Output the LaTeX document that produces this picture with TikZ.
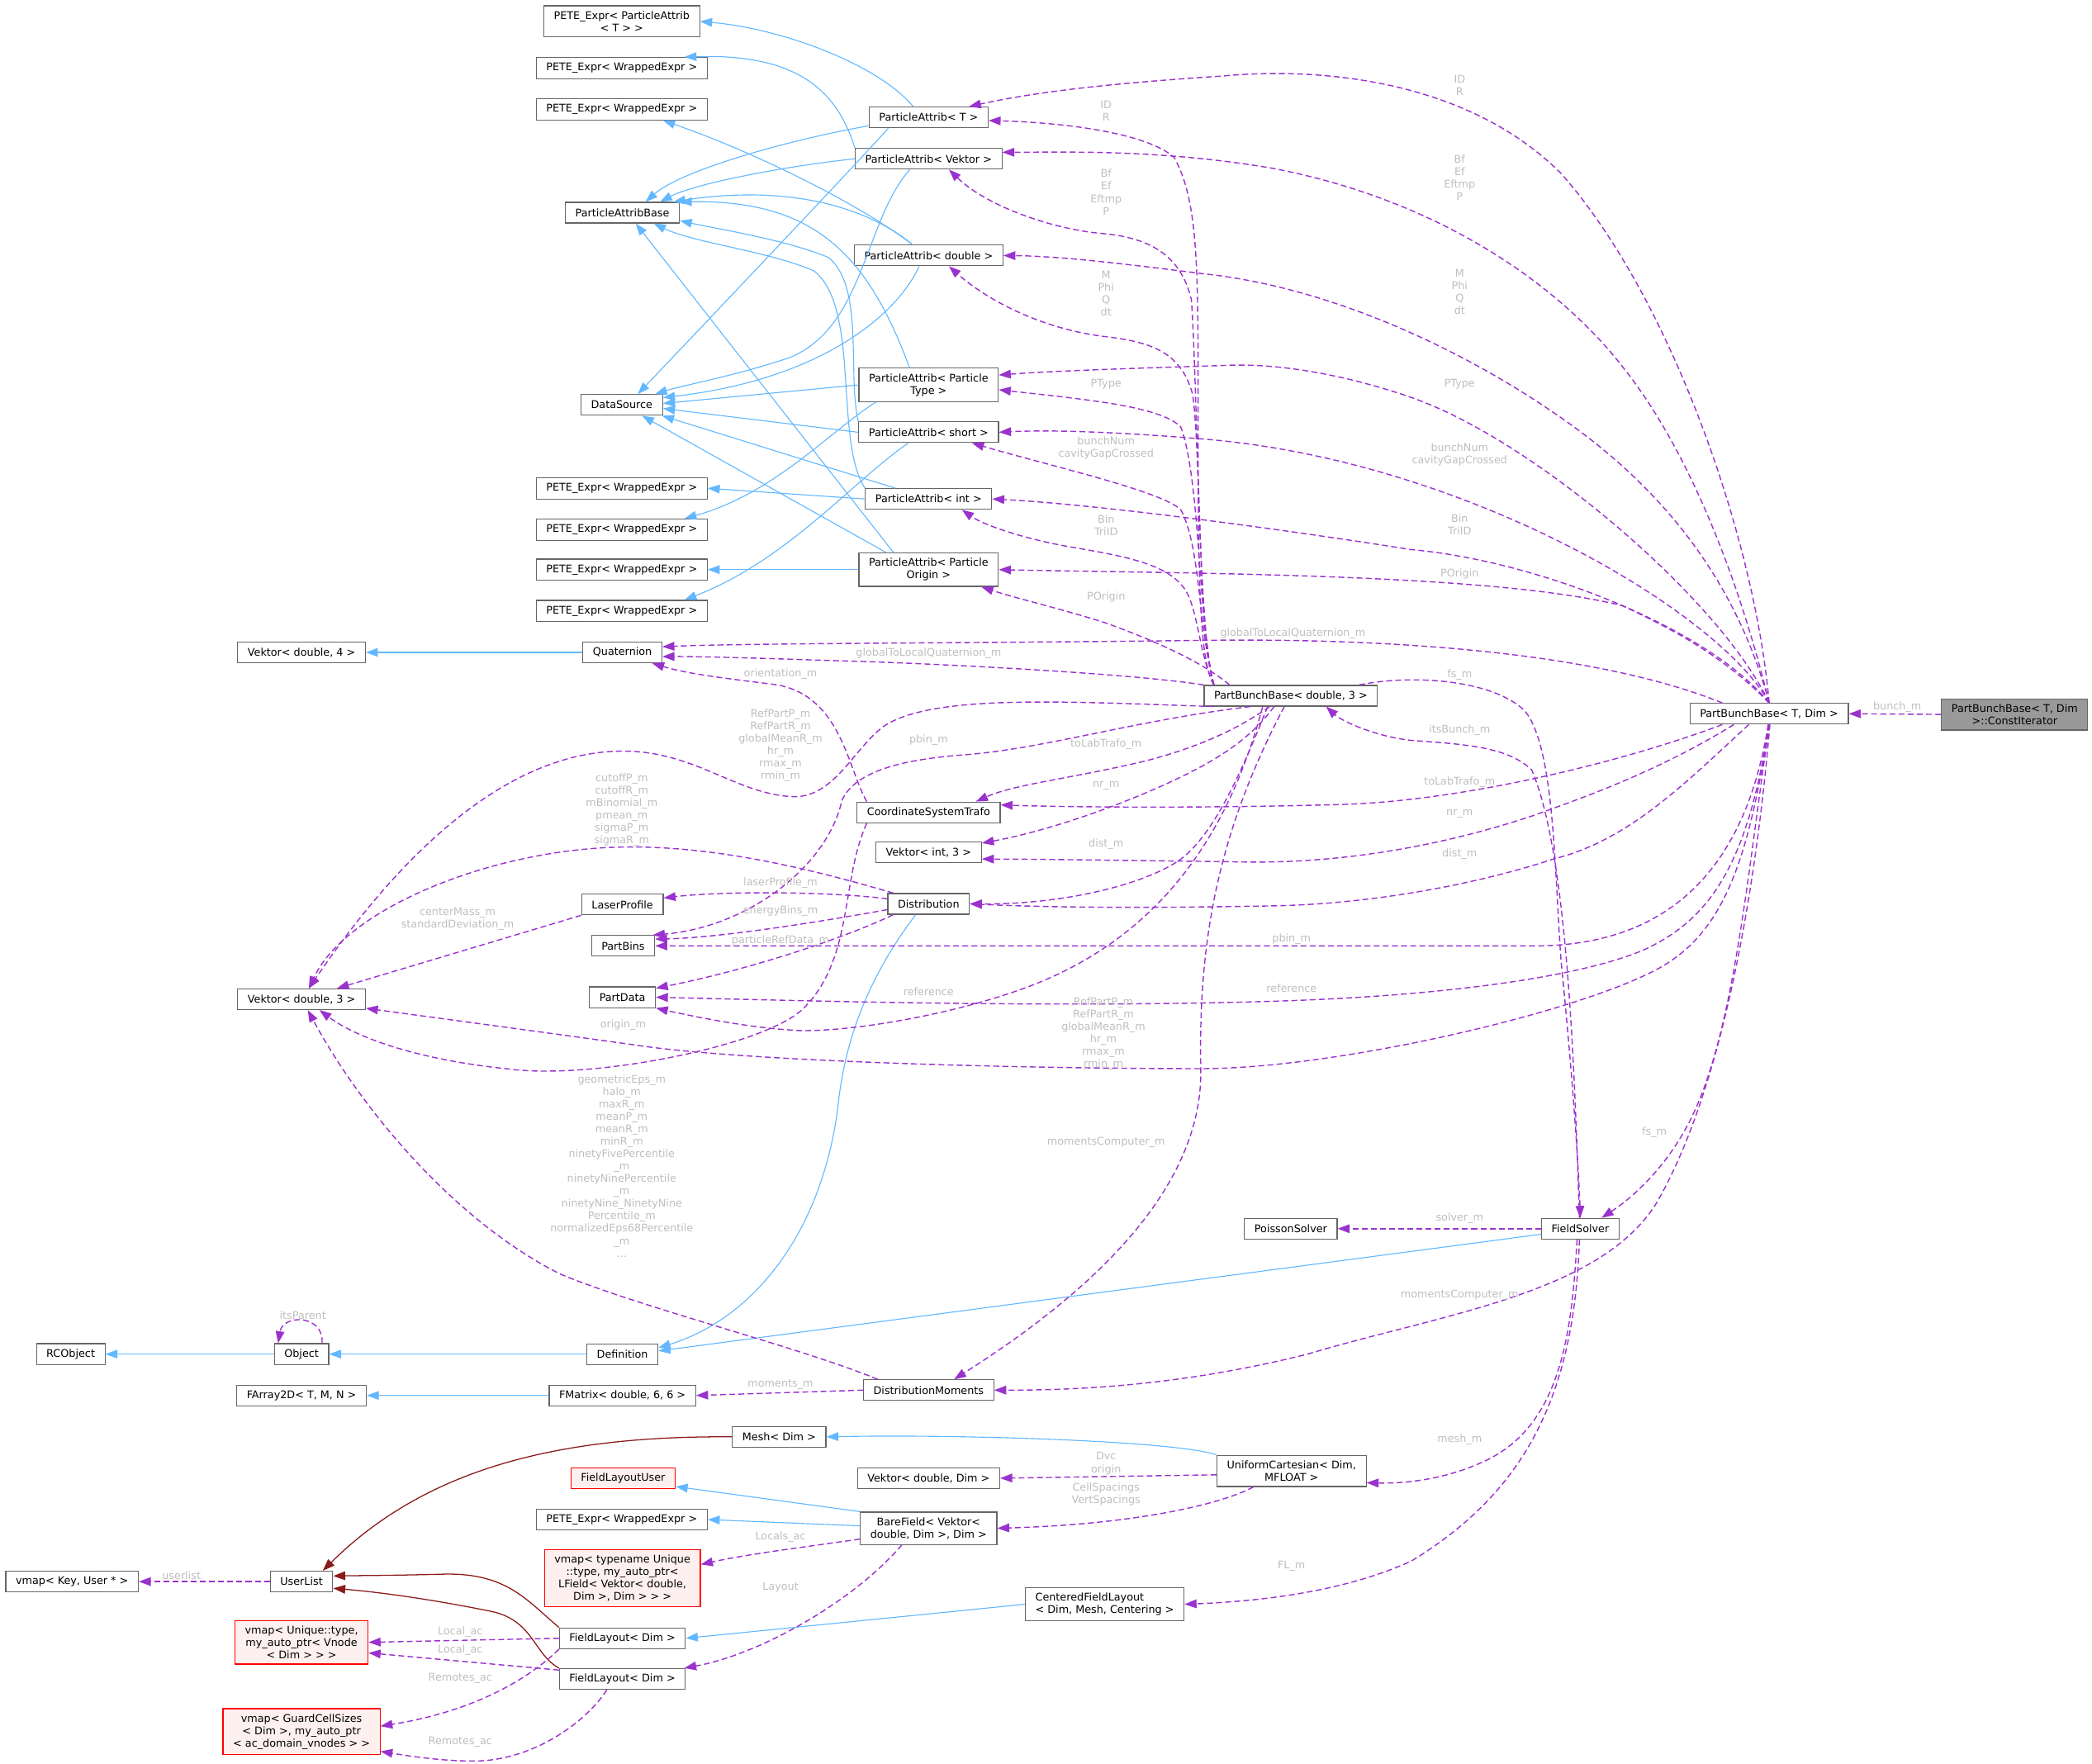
\documentclass[tikz,border=0pt]{standalone}
\usepackage{fontspec}
\setmainfont{DejaVu Sans}
\usepackage{tikz}
\usetikzlibrary{arrows.meta}
\definecolor{NodeBorder}{HTML}{666666}
\definecolor{CurFill}{HTML}{999999}
\definecolor{MissBorder}{HTML}{FF0000}
\definecolor{MissFill}{HTML}{FFF0F0}
\definecolor{InhEdge}{HTML}{63B8FF}
\definecolor{UseEdge}{HTML}{9A32CD}
\definecolor{PrivEdge}{HTML}{8B1A1A}
\definecolor{EdgeLabel}{HTML}{BEBEBE}
\newcommand{\dxfont}{\fontsize{4.5}{5.3}\selectfont}

\begin{document}
\begin{tikzpicture}[x=0.02cm,y=-0.02cm,
  cls/.style={draw=NodeBorder,fill=white,line width=0.4pt,font=\dxfont,
    align=center,inner xsep=0.15cm,inner ysep=0.08cm,minimum height=0.31cm},
  cur/.style={cls,fill=CurFill},
  miss/.style={cls,draw=MissBorder,fill=MissFill},
  inh/.style={->,>={Triangle[length=1.8mm,width=1.3mm]},draw=InhEdge,line width=0.4pt},
  usage/.style={->,>={Triangle[length=1.8mm,width=1.3mm]},draw=UseEdge,
    line width=0.5pt,dash pattern=on 2.5pt off 1.4pt},
  priv/.style={->,>={Triangle[length=1.8mm,width=1.3mm]},draw=PrivEdge,line width=0.45pt},
  elbl/.style={font=\dxfont,text=EdgeLabel,align=center,inner sep=0pt}
]
\useasboundingbox (0,0) rectangle (1568,1322);
% classes
\node[cls] (peteT) at (466,16) {PETE\_Expr< ParticleAttrib\\< T > >};
\node[cls] (peteA) at (466,51) {PETE\_Expr< WrappedExpr >};
\node[cls] (peteB) at (466,82) {PETE\_Expr< WrappedExpr >};
\node[cls] (pab) at (466.5,159.4) {ParticleAttribBase};
\node[cls] (paT) at (696,88) {ParticleAttrib< T >};
\node[cls] (paVek) at (696,119) {ParticleAttrib< Vektor >};
\node[cls] (paDbl) at (696,191.5) {ParticleAttrib< double >};
\node[cls] (dsrc) at (466,303.5) {DataSource};
\node[cls] (paPT) at (696,288.5) {ParticleAttrib< Particle\\Type >};
\node[cls] (paShort) at (696,324) {ParticleAttrib< short >};
\node[cls] (peteC) at (466,366) {PETE\_Expr< WrappedExpr >};
\node[cls] (paInt) at (696,374) {ParticleAttrib< int >};
\node[cls] (peteD) at (466,397) {PETE\_Expr< WrappedExpr >};
\node[cls] (paPO) at (696,427) {ParticleAttrib< Particle\\Origin >};
\node[cls] (peteE) at (466,427) {PETE\_Expr< WrappedExpr >};
\node[cls] (peteF) at (466,458) {PETE\_Expr< WrappedExpr >};
\node[cls] (vek4) at (226,489) {Vektor< double, 4 >};
\node[cls] (quat) at (466.5,489) {Quaternion};
\node[cls] (pbbD) at (967.5,521.5) {PartBunchBase< double, 3 >};
\node[cls] (pbbT) at (1326,535) {PartBunchBase< T, Dim >};
\node[cur] (cit) at (1510,535.5) {PartBunchBase< T, Dim\\>::ConstIterator};
\node[cls] (cst) at (696,609) {CoordinateSystemTrafo};
\node[cls] (vekI3) at (696,639) {Vektor< int, 3 >};
\node[cls] (dist) at (696,677.5) {Distribution};
\node[cls] (laser) at (466.5,678) {LaserProfile};
\node[cls] (pbins) at (467,709) {PartBins};
\node[cls] (pdata) at (466.5,747.5) {PartData};
\node[cls] (vekD3) at (226,749) {Vektor< double, 3 >};
\node[cls] (poisson) at (967.5,921) {PoissonSolver};
\node[cls] (fsolver) at (1184.5,921) {FieldSolver};
\node[cls] (rcobj) at (53,1015) {RCObject};
\node[cls] (object) at (226,1015) {Object};
\node[cls] (defn) at (466.5,1015) {Definition};
\node[cls] (farray) at (226,1046) {FArray2D< T, M, N >};
\node[cls] (fmatrix) at (466.5,1046) {FMatrix< double, 6, 6 >};
\node[cls] (dmom) at (696,1042) {DistributionMoments};
\node[cls] (mesh) at (584,1077) {Mesh< Dim >};
\node[cls] (ucart) at (968,1102.5) {UniformCartesian< Dim,\\MFLOAT >};
\node[miss] (flu) at (467,1108) {FieldLayoutUser};
\node[cls] (vekDD) at (696,1108) {Vektor< double, Dim >};
\node[cls] (peteG) at (466,1139) {PETE\_Expr< WrappedExpr >};
\node[cls] (bfield) at (696,1145.5) {BareField< Vektor<\\double, Dim >, Dim >};
\node[miss] (vmapL) at (466.5,1183) {vmap< typename Unique\\::type, my\_auto\_ptr<\\LField< Vektor< double,\\Dim >, Dim > > >};
\node[cls] (ulist) at (226,1185.5) {UserList};
\node[cls] (vmapK) at (54,1185.5) {vmap< Key, User * >};
\node[cls,align=left] (cfl) at (828,1202.5) {CenteredFieldLayout\\< Dim, Mesh, Centering >};
\node[cls] (flA) at (466.5,1228) {FieldLayout< Dim >};
\node[miss] (vmapU) at (226,1231) {vmap< Unique::type,\\my\_auto\_ptr< Vnode\\< Dim > > >};
\node[cls] (flB) at (466.5,1258.5) {FieldLayout< Dim >};
\node[miss] (vmapG) at (226,1298) {vmap< GuardCellSizes\\< Dim >, my\_auto\_ptr\\< ac\_domain\_vnodes > >};

% public inheritance
\draw[inh] (paT.145) .. controls (660,50) and (590,22) .. (peteT.east);
\draw[inh] (paT.188) .. controls (590,105) and (510,128) .. (pab.25);
\draw[inh] (paT.195) .. controls (652,112) and (545,225) .. (dsrc.34);
\draw[inh] (paVek.north west) .. controls (628,70) and (600,40) .. (peteA.10);
\draw[inh] (paVek.west) .. controls (585,125) and (520,138) .. (pab.16);
\draw[inh] (paVek.210) .. controls (648,165) and (648,245) .. (592,268) .. controls (550,282) and (515,288) .. (dsrc.18);
\draw[inh] (paDbl.146) .. controls (650,155) and (590,138) .. (pab.12);
\draw[inh] (paDbl.146) .. controls (640,150) and (560,112) .. (peteB.345);
\draw[inh] (paDbl.229) .. controls (670,240) and (610,285) .. (dsrc.10);
\draw[inh] (paPT.138) .. controls (650,190) and (610,150) .. (pab.north east);
\draw[inh] (paPT.west) -- (dsrc.2);
\draw[inh] (paPT.198) .. controls (620,325) and (580,370) .. (peteD.10);
\draw[inh] (paShort.north west) .. controls (635,280) and (648,215) .. (621,193) .. controls (590,180) and (540,172) .. (pab.352);
\draw[inh] (paShort.west) -- (dsrc.355);
\draw[inh] (paShort.208) .. controls (640,360) and (590,420) .. (peteF.10);
\draw[inh] (paInt.north west) .. controls (625,330) and (645,230) .. (610,203) .. controls (575,188) and (520,182) .. (pab.341);
\draw[inh] (paInt.162) -- (dsrc.345);
\draw[inh] (paInt.west) -- (peteC.east);
\draw[inh] (paPO.154) -- (pab.321);
\draw[inh] (paPO.158) -- (dsrc.332);
\draw[inh] (paPO.west) -- (peteE.east);
\draw[inh] (quat.west) -- (vek4.east);
\draw[inh] (dist.220) .. controls (645,740) and (632,790) .. (628,830) .. controls (615,930) and (560,990) .. (defn.10);
\draw[inh] (fsolver.188) -- (defn.5);
\draw[inh] (defn.west) -- (object.east);
\draw[inh] (object.west) -- (rcobj.east);
\draw[inh] (fmatrix.west) -- (farray.east);
\draw[inh] (ucart.north west) .. controls (880,1080) and (720,1075) .. (mesh.east);
\draw[inh] (bfield.north west) -- (flu.351);
\draw[inh] (bfield.178) -- (peteG.east);
\draw[inh] (cfl.west) -- (flA.east);

% private inheritance
\draw[priv] (mesh.west) .. controls (420,1076) and (320,1100) .. (ulist.27);
\draw[priv] (flA.north west) .. controls (395,1200) and (380,1178) .. (330,1180) .. controls (290,1181) and (265,1181) .. (ulist.10);
\draw[priv] (flB.north west) .. controls (400,1240) and (400,1215) .. (369,1208) .. controls (320,1198) and (280,1193) .. (ulist.348);

% usage from PartBunchBase< T, Dim >
\draw[usage] (cit.west) -- (pbbT.east);
\draw[usage] (pbbT.north) .. controls (1315,400) and (1250,220) .. (1170,130) .. controls (1100,60) and (990,50) .. (916,57) .. controls (840,62) and (780,68) .. (paT.15);
\draw[usage] (pbbT.north) .. controls (1300,420) and (1260,330) .. (1217,276) .. controls (1170,215) and (1080,150) .. (953,126) .. controls (870,112) and (800,114) .. (paVek.5);
\draw[usage] (pbbT.north) .. controls (1300,430) and (1240,360) .. (1164,309) .. controls (1100,265) and (1000,215) .. (900,205) .. controls (830,196) and (790,192) .. (paDbl.east);
\draw[usage] (pbbT.north) .. controls (1290,450) and (1150,330) .. (1058,298) .. controls (1000,278) and (950,272) .. (916,274) .. controls (850,276) and (790,278) .. (paPT.8);
\draw[usage] (pbbT.north) .. controls (1290,460) and (1100,345) .. (901,329) .. controls (840,324) and (790,322) .. (paShort.east);
\draw[usage] (pbbT.north) .. controls (1280,470) and (1150,420) .. (1058,412) .. controls (950,395) and (820,378) .. (paInt.east);
\draw[usage] (pbbT.north) .. controls (1290,490) and (1250,470) .. (1216,454) .. controls (1120,430) and (900,430) .. (paPO.east);
\draw[usage] (pbbT.167) .. controls (1200,490) and (1050,478) .. (900,480) .. controls (750,482) and (560,482) .. (quat.8);
\draw[usage] (pbbT.193) .. controls (1220,570) and (1100,600) .. (1006,603) .. controls (900,606) and (800,605) .. (cst.6);
\draw[usage] (pbbT.197) .. controls (1240,580) and (1180,600) .. (1153,610) .. controls (1080,635) and (1000,648) .. (927,646) .. controls (850,645) and (780,644) .. (vekI3.353);
\draw[usage] (pbbT.208) .. controls (1260,590) and (1220,630) .. (1164,644) .. controls (1100,665) and (1020,678) .. (953,679) .. controls (850,681) and (780,680) .. (dist.east);
\draw[usage] (pbbT.265) .. controls (1310,640) and (1260,709) .. (1150,709) -- (pbins.east);
\draw[usage] (pbbT.268) .. controls (1310,650) and (1280,690) .. (1232,712) .. controls (1190,730) and (1100,745) .. (969,750) .. controls (800,756) and (600,750) .. (pdata.east);
\draw[usage] (pbbT.south) .. controls (1310,650) and (1290,700) .. (1243,726) .. controls (1180,760) and (1000,801) .. (901,801) .. controls (750,801) and (550,795) .. (474,783) .. controls (380,770) and (320,762) .. (vekD3.352);
\draw[usage] (pbbT.272) .. controls (1310,650) and (1300,780) .. (1264,845) .. controls (1245,880) and (1220,900) .. (fsolver.27);
\draw[usage] (pbbT.274) .. controls (1320,620) and (1300,800) .. (1242,901) .. controls (1200,970) and (1080,985) .. (980,1015) .. controls (880,1040) and (800,1042) .. (dmom.east);

% usage from PartBunchBase< double, 3 >
\draw[usage] (pbbD.172) .. controls (898,495) and (898,420) .. (898,300) .. controls (898,200) and (898,150) .. (880,118) .. controls (860,100) and (800,92) .. (paT.357);
\draw[usage] (pbbD.172) .. controls (898,480) and (898,300) .. (893,225) .. controls (885,190) and (860,178) .. (826,175) .. controls (790,172) and (740,155) .. (paVek.332);
\draw[usage] (pbbD.172) .. controls (898,470) and (900,340) .. (894,296) .. controls (885,262) and (860,256) .. (826,252) .. controls (780,246) and (740,225) .. (paDbl.332);
\draw[usage] (pbbD.172) .. controls (898,470) and (900,360) .. (885,320) .. controls (870,305) and (820,300) .. (paPT.356);
\draw[usage] (pbbD.172) .. controls (898,470) and (900,410) .. (885,382) .. controls (870,368) and (790,350) .. (paShort.346);
\draw[usage] (pbbD.172) .. controls (898,490) and (898,450) .. (885,438) .. controls (870,420) and (830,415) .. (797,409) .. controls (760,402) and (735,392) .. (paInt.342);
\draw[usage] (pbbD.170) .. controls (900,495) and (860,478) .. (826,466) .. controls (790,455) and (760,448) .. (paPO.342);
\draw[usage] (pbbD.north west) .. controls (850,505) and (700,497) .. (619,495) .. controls (560,493) and (520,492) .. (quat.354);
\draw[usage] (pbbD.207) .. controls (930,545) and (900,560) .. (856,571) .. controls (800,584) and (760,588) .. (cst.13);
\draw[usage] (pbbD.213) .. controls (940,550) and (920,565) .. (890,580) .. controls (850,600) and (790,622) .. (vekI3.10);
\draw[usage] (pbbD.205) .. controls (930,580) and (910,625) .. (885,644) .. controls (860,662) and (800,678) .. (dist.east);
\draw[usage] (pbbD.195) .. controls (850,540) and (780,562) .. (720,566) .. controls (670,570) and (640,580) .. (631,600) .. controls (620,650) and (560,695) .. (pbins.20);
\draw[usage] (pbbD.201) .. controls (925,610) and (880,700) .. (767,741) .. controls (700,765) and (620,775) .. (592,772) .. controls (560,770) and (520,762) .. (pdata.south east);
\draw[usage] (pbbD.188) .. controls (800,526) and (700,520) .. (663,544) .. controls (640,560) and (625,600) .. (592,597) .. controls (550,594) and (520,563) .. (467,563) .. controls (380,563) and (300,640) .. (vekD3.56);
\draw[usage] (pbbD.9) .. controls (1060,505) and (1120,510) .. (1143,533) .. controls (1165,560) and (1165,650) .. (1170,720) .. controls (1178,800) and (1183,870) .. (fsolver.north);
\draw[usage] (fsolver.95) .. controls (1180,800) and (1175,640) .. (1148,577) .. controls (1130,560) and (1100,558) .. (1058,555) .. controls (1030,552) and (1005,540) .. (pbbD.343);
\draw[usage] (pbbD.239) .. controls (915,620) and (898,700) .. (900,801) .. controls (902,900) and (800,980) .. (dmom.23);

% remaining usage
\draw[usage] (cst.170) .. controls (635,575) and (630,520) .. (580,513) .. controls (540,508) and (515,505) .. (quat.340);
\draw[usage] (dist.173) .. controls (620,668) and (540,668) .. (laser.9);
\draw[usage] (dist.188) .. controls (620,690) and (540,703) .. (pbins.12);
\draw[usage] (dist.197) .. controls (640,700) and (570,725) .. (pdata.15);
\draw[usage] (dist.163) .. controls (620,655) and (540,633) .. (464,635) .. controls (370,637) and (260,680) .. (vekD3.56);
\draw[usage] (laser.south west) -- (vekD3.17);
\draw[usage] (cst.190) .. controls (630,660) and (640,720) .. (601,757) .. controls (570,785) and (440,810) .. (379,801) .. controls (320,795) and (270,780) .. (vekD3.329);
\draw[usage] (dmom.168) .. controls (600,1010) and (480,980) .. (420,955) .. controls (340,915) and (270,830) .. (vekD3.300);
\draw[usage] (dmom.west) -- (fmatrix.east);
\draw[usage] (object.28) .. controls (243,985) and (212,985) .. (object.155);
\draw[usage] (ucart.183) -- (vekDD.east);
\draw[usage] (ucart.203) .. controls (910,1130) and (840,1143) .. (bfield.east);
\draw[usage] (bfield.189) .. controls (600,1160) and (560,1165) .. (vmapL.10);
\draw[usage] (bfield.212) .. controls (640,1200) and (570,1240) .. (flB.10);
\draw[usage] (ulist.west) -- (vmapK.east);
\draw[usage] (flA.west) -- (vmapU.east);
\draw[usage] (flB.172) -- (vmapU.351);
\draw[usage] (flA.south west) .. controls (400,1255) and (360,1282) .. (vmapG.4);
\draw[usage] (flB.215) .. controls (440,1290) and (400,1320) .. (355,1320) .. controls (330,1320) and (305,1316) .. (vmapG.346);
\draw[usage] (fsolver.west) -- (poisson.east);
\draw[usage] (fsolver.253) .. controls (1178,1000) and (1170,1070) .. (1111,1096) .. controls (1080,1110) and (1050,1112) .. (ucart.351);
\draw[usage] (fsolver.265) .. controls (1180,1050) and (1140,1120) .. (1058,1170) .. controls (1010,1192) and (950,1200) .. (cfl.east);

% edge labels
\node[elbl] (lbunch) at (1422,530) {bunch\_m};
\node[elbl] (lidT) at (1094,64) {ID\\R};
\node[elbl] (lbfT) at (1094,133) {Bf\\Ef\\Eftmp\\P};
\node[elbl] (lmT) at (1094,219) {M\\Phi\\Q\\dt};
\node[elbl] (lptT) at (1094,288) {PType};
\node[elbl] (lbnT) at (1094,341) {bunchNum\\cavityGapCrossed};
\node[elbl] (lbinT) at (1094,393) {Bin\\TriID};
\node[elbl] (lpoT) at (1094,430) {POrigin};
\node[elbl] (lqT) at (969,475) {globalToLocalQuaternion\_m};
\node[elbl] (ltlT) at (1094,586) {toLabTrafo\_m};
\node[elbl] (lnrT) at (1094,610) {nr\_m};
\node[elbl] (ldistT) at (1094,640) {dist\_m};
\node[elbl] (lpbinT) at (968,704) {pbin\_m};
\node[elbl] (lrefT) at (968,741) {reference};
\node[elbl] (lrpT) at (827,775) {RefPartP\_m\\RefPartR\_m\\globalMeanR\_m\\hr\_m\\rmax\_m\\rmin\_m};
\node[elbl] (lfsT) at (1240,849) {fs\_m};
\node[elbl] (lmcT) at (1094,971) {momentsComputer\_m};
\node[elbl] (lidD) at (829,83) {ID\\R};
\node[elbl] (lbfD) at (829,144) {Bf\\Ef\\Eftmp\\P};
\node[elbl] (lmD) at (829,220) {M\\Phi\\Q\\dt};
\node[elbl] (lptD) at (829,288) {PType};
\node[elbl] (lbnD) at (829,336) {bunchNum\\cavityGapCrossed};
\node[elbl] (lbinD) at (829,394) {Bin\\TriID};
\node[elbl] (lpoD) at (829,447.5) {POrigin};
\node[elbl] (lqD) at (696,490) {globalToLocalQuaternion\_m};
\node[elbl] (ltlD) at (829,558) {toLabTrafo\_m};
\node[elbl] (lnrD) at (829,589) {nr\_m};
\node[elbl] (ldistD) at (829,633) {dist\_m};
\node[elbl] (lpbinD) at (696,555) {pbin\_m};
\node[elbl] (lrefD) at (696,743) {reference};
\node[elbl] (lrpD) at (585,559) {RefPartP\_m\\RefPartR\_m\\globalMeanR\_m\\hr\_m\\rmax\_m\\rmin\_m};
\node[elbl] (lfsD) at (1094,506) {fs\_m};
\node[elbl] (litsB) at (1094,547) {itsBunch\_m};
\node[elbl] (lmcD) at (829,856) {momentsComputer\_m};
\node[elbl] (lorient) at (585,505) {orientation\_m};
\node[elbl] (llaser) at (585,662) {laserProfile\_m};
\node[elbl] (lebins) at (585,683) {energyBins\_m};
\node[elbl] (lpref) at (585,705) {particleRefData\_m};
\node[elbl] (lcut) at (466,607) {cutoffP\_m\\cutoffR\_m\\mBinomial\_m\\pmean\_m\\sigmaP\_m\\sigmaR\_m};
\node[elbl] (lcm) at (343,689) {centerMass\_m\\standardDeviation\_m};
\node[elbl] (lorig) at (467,768) {origin\_m};
\node[elbl] (lgeo) at (466,874) {geometricEps\_m\\halo\_m\\maxR\_m\\meanP\_m\\meanR\_m\\minR\_m\\ninetyFivePercentile\\\_m\\ninetyNinePercentile\\\_m\\ninetyNine\_NinetyNine\\Percentile\_m\\normalizedEps68Percentile\\\_m\\...};
\node[elbl] (lmom) at (585,1038) {moments\_m};
\node[elbl] (lpar) at (227,986) {itsParent};
\node[elbl] (ldvc) at (829,1097) {Dvc\\origin};
\node[elbl] (lcell) at (829,1120) {CellSpacings\\VertSpacings};
\node[elbl] (llocs) at (585,1152) {Locals\_ac};
\node[elbl] (llay) at (585,1190) {Layout};
\node[elbl] (luser) at (136,1181) {userlist};
\node[elbl] (lloc1) at (345,1223) {Local\_ac};
\node[elbl] (lloc2) at (345,1237) {Local\_ac};
\node[elbl] (lrem1) at (345,1258) {Remotes\_ac};
\node[elbl] (lrem2) at (345,1306) {Remotes\_ac};
\node[elbl] (lsolv) at (1094,913) {solver\_m};
\node[elbl] (lmesh) at (1094,1079) {mesh\_m};
\node[elbl] (lfl) at (968,1174) {FL\_m};
\end{tikzpicture}
\end{document}
